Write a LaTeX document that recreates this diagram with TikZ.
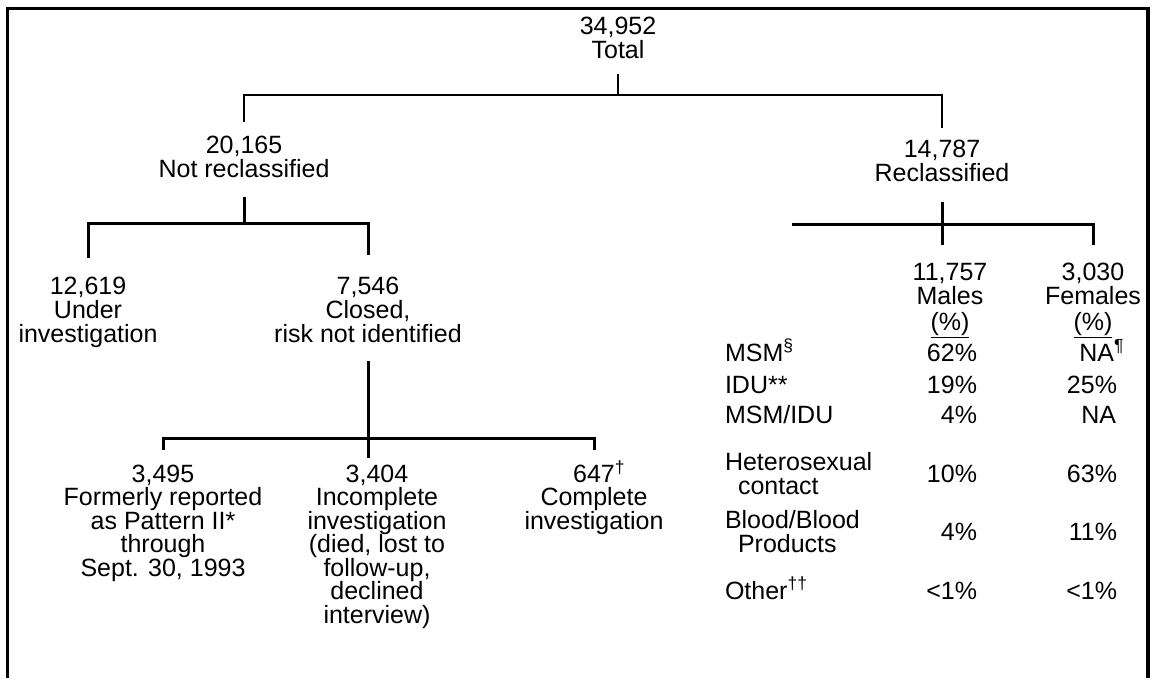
\documentclass[tikz,border=0pt]{standalone}
\usepackage{fontspec}
\setmainfont{Liberation Sans}
\begin{document}
\begin{tikzpicture}[x=1pt,y=-1pt,
  lbl/.style={inner sep=0pt, outer sep=0pt, align=center, anchor=north, font=\fontsize{25}{24}\selectfont},
  cell/.style={inner sep=0pt, outer sep=0pt, font=\fontsize{25}{24}\selectfont},
  cell2/.style={inner sep=0pt, outer sep=0pt, align=left, anchor=north west, font=\fontsize{25}{24}\selectfont},
  thinline/.style={line width=1.4pt},
  thickline/.style={line width=3pt},
  frameline/.style={line width=3.6pt}]
\useasboundingbox (0,0) rectangle (1153,678);
\draw[frameline] (7.5,678) -- (7.5,8.5) -- (1148,8.5) -- (1148,678);

% tree nodes
\node[lbl] (total) at (618,17) {34,952\\Total};
\node[lbl] (notrec) at (244,136) {20,165\\Not reclassified};
\node[lbl] (rec) at (942,140) {14,787\\Reclassified};
\node[lbl] (under) at (88,277) {12,619\\Under\\investigation};
\node[lbl] (closed) at (368,277) {7,546\\Closed,\\risk not identified};
\node[lbl, font=\fontsize{25}{23.5}\selectfont] (formerly) at (163,465) {3,495\\Formerly reported\\as Pattern II*\\through\\Sept. 30, 1993};
\node[lbl, font=\fontsize{25}{23.5}\selectfont] (incomplete) at (377,465) {3,404\\Incomplete\\investigation\\(died, lost to\\follow-up,\\declined\\interview)};
\node[lbl, font=\fontsize{25}{23.5}\selectfont] (complete) at (594,465) {647\rlap{\smash{\textsuperscript{†}}}\\Complete\\investigation};
\node[lbl] (males) at (950,263) {11,757\\Males\\[2pt]\underline{(\%)}};
\node[lbl] (females) at (1093,263) {3,030\\Females\\[2pt]\underline{(\%)}};

% table
\node[cell, anchor=base west] (r1) at (725,361) {MSM\textsuperscript{§}};
\node[cell, anchor=base east] (r1m) at (977,361) {62\%};
\node[cell, anchor=base east] (r1f) at (1114,361) {NA\rlap{\textsuperscript{¶}}};
\node[cell, anchor=base west] (r2) at (725,393) {IDU**};
\node[cell, anchor=base east] (r2m) at (977,393) {19\%};
\node[cell, anchor=base east] (r2f) at (1117,393) {25\%};
\node[cell, anchor=base west] (r3) at (725,423) {MSM/IDU};
\node[cell, anchor=base east] (r3m) at (977,423) {4\%};
\node[cell, anchor=base east] (r3f) at (1116,423) {NA};
\node[cell2] (r4) at (725,452) {Heterosexual\\\hspace*{13pt}contact};
\node[cell, anchor=base east] (r4m) at (977,482) {10\%};
\node[cell, anchor=base east] (r4f) at (1117,482) {63\%};
\node[cell2] (r5) at (725,510) {Blood/Blood\\\hspace*{13pt}Products};
\node[cell, anchor=base east] (r5m) at (977,540) {4\%};
\node[cell, anchor=base east] (r5f) at (1117,540) {11\%};
\node[cell, anchor=base west] (r6) at (725,599) {Other\textsuperscript{††}};
\node[cell, anchor=base east] (r6m) at (977,599) {<1\%};
\node[cell, anchor=base east] (r6f) at (1117,599) {<1\%};

% connectors
\coordinate (barL) at (792,224);
\draw[thinline] (total.south |- 0,74) -- (total.south |- 0,95);
\draw[thinline] (notrec.north |- 0,122) -- (notrec.north |- 0,95) -- (rec.north |- 0,95) -- (rec.north |- 0,128);
\draw[thickline] (notrec.south |- 0,197) -- (notrec.south |- 0,223);
\draw[thickline] (under.north |- 0,258) -- (under.north |- 0,223) -- (closed.north |- 0,223) -- (closed.north |- 0,255);
\draw[thickline] (closed.south |- 0,361) -- (closed.south |- 0,458);
\draw[thickline] (formerly.north |- 0,450) -- (formerly.north |- 0,438) -- (complete.north |- 0,438) -- (complete.north |- 0,450);
\draw[thickline] (rec.south |- 0,202) -- (rec.south |- 0,245);
\draw[thickline] (barL) -- (females.north |- 0,224) -- (females.north |- 0,245);
\end{tikzpicture}
\end{document}
